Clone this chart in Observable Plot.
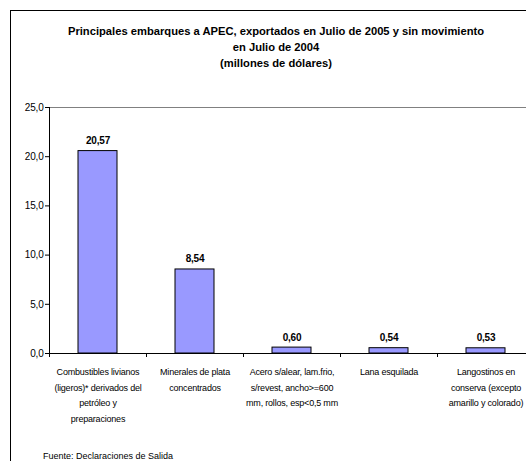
<!DOCTYPE html>
<html>
<head>
<meta charset="utf-8">
<script src="https://cdn.jsdelivr.net/npm/d3@7"></script>
<script src="https://cdn.jsdelivr.net/npm/@observablehq/plot@0.6"></script>
<style>
  html, body { margin: 0; padding: 0; background: #fff; }
  #wrap { position: relative; width: 526px; height: 461px; overflow: hidden; font-family: "Liberation Sans", Arial, sans-serif; }
  #border { position: absolute; left: 10px; top: 10px; width: 600px; height: 600px; border: 1px solid #000; box-sizing: border-box; }
  #title { position: absolute; left: 10px; top: 23px; width: 532px; text-align: center; font-weight: bold; font-size: 11.2px; line-height: 16px; color: #000; }
  #source { position: absolute; left: 43px; top: 451px; font-size: 9px; color: #000; }
  #chart { position: absolute; left: 0; top: 0; width: 534px; }
  #chart svg { max-width: none !important; }
</style>
</head>
<body>
<div id="wrap">
  <div id="border"></div>
  <div id="chart"></div>
  <div id="title">Principales embarques a APEC, exportados en Julio de 2005 y sin movimiento<br>en Julio de 2004<br>(millones de dólares)</div>
  <div id="source">Fuente: Declaraciones de Salida</div>
</div>
<script>
const categories = [
  "Combustibles livianos\n(ligeros)* derivados del\npetróleo y\npreparaciones",
  "Minerales de plata\nconcentrados",
  "Acero s/alear, lam.frio,\ns/revest, ancho>=600\nmm, rollos, esp<0,5 mm",
  "Lana esquilada",
  "Langostinos en\nconserva (excepto\namarillo y colorado)"
];
const values = [20.57, 8.54, 0.60, 0.54, 0.53];
const yTicks = [0, 5, 10, 15, 20, 25];

const table = categories.map((c, i) => ({category: c, value: values[i]}));
const comma = (v, n) => v.toFixed(n).replace(".", ",");

const chart = Plot.plot({
  width: 534,
  height: 461,
  marginLeft: 49,
  marginRight: 0,
  marginTop: 107,
  marginBottom: 108,
  style: {fontFamily: "'Liberation Sans', Arial, sans-serif", fontSize: "9px", background: "transparent", color: "#000", maxWidth: "none", letterSpacing: "-0.2px"},
  x: {domain: categories, padding: 0, axis: null},
  y: {domain: [0, 25], axis: null},
  marks: [
    Plot.ruleY([25], {stroke: "#808080", strokeOpacity: 1}),
    Plot.barY(table, {x: "category", y: "value", fill: "#9999FF", stroke: "#000", strokeWidth: 1, insetLeft: 29, insetRight: 29}),
    Plot.ruleY([0], {stroke: "#000", strokeOpacity: 1}),
    Plot.axisY({ticks: yTicks, tickFormat: d => comma(d, 1), tickSize: 4, tickPadding: 2, stroke: "#000", strokeOpacity: 1, fontSize: 10, label: null, style: {letterSpacing: "-0.3px"}}),
    (index, scales, values, dims) => {
      const g = d3.create("svg:g").attr("stroke", "#000").attr("fill", "none");
      const y0 = dims.height - dims.marginBottom;
      g.append("line").attr("x1", dims.marginLeft + 0.5).attr("x2", dims.marginLeft + 0.5)
        .attr("y1", dims.marginTop).attr("y2", y0 + 0.5);
      const xs = categories.map(c => scales.x(c)).concat([dims.width - dims.marginRight]);
      for (const x of xs) {
        g.append("line").attr("x1", Math.round(x) + 0.5).attr("x2", Math.round(x) + 0.5)
          .attr("y1", y0).attr("y2", y0 + 4);
      }
      return g.node();
    },
    Plot.text(table, {x: "category", y: "value", text: d => comma(d.value, 2), fontWeight: "bold", fontSize: 10, lineAnchor: "bottom", dy: -7, fill: "#000", style: {letterSpacing: "0"}}),
    Plot.text(table, {x: "category", text: "category", frameAnchor: "bottom", lineAnchor: "top", dy: 11, lineHeight: 1.72, fontSize: 9, fill: "#000"})
  ]
});
document.getElementById("chart").appendChild(chart);
</script>
</body>
</html>
